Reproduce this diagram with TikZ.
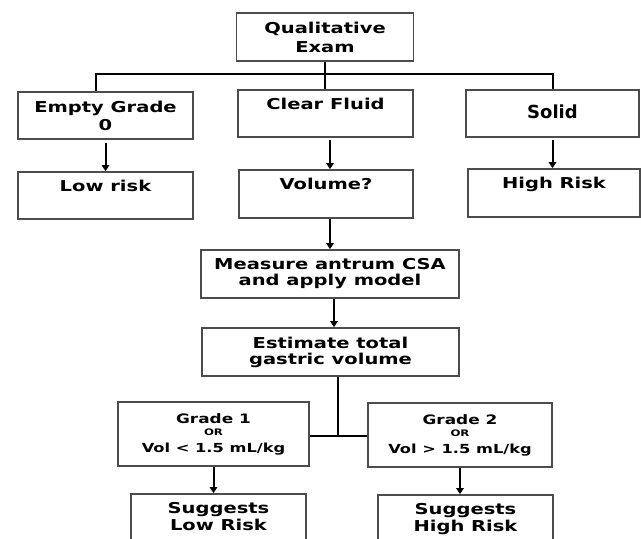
\documentclass[tikz,border=0pt]{standalone}
\usepackage{fontspec}
\setmainfont{DejaVu Sans}[FakeStretch=1.3]
\newfontfamily\solidfont{DejaVu Sans}
\usetikzlibrary{arrows.meta}

\begin{document}
\begin{tikzpicture}[x=1pt, y=-1pt,
		box/.style={draw=black!70, line width=1.7pt, align=center, inner sep=2pt,
			font=\bfseries\fontsize{15}{16}\selectfont},
		leading/.style={font=\bfseries\fontsize{15}{#1}\selectfont},
		topbox/.style={box, text height=11pt, text depth=20pt},
		flow/.style={-{Triangle[length=6pt,width=7.5pt]}, line width=2pt},
		link/.style={line width=2pt}]
			%%%%% START %%%%%
			
			\useasboundingbox (0, 0) rectangle (641, 539);
			\clip (0, 0) rectangle (641, 539);
			\fill[white] (0, 0) rectangle (641, 539);
			
			\node[box, leading=19, minimum width=177pt, minimum height=48pt] (qual) at (325, 37) {Qualitative\\Exam};
			
			\node[box, leading=18, minimum width=175pt, minimum height=47pt] (empty) at (105.5, 115.5) {Empty Grade\\0};
			\node[topbox, minimum width=175pt, minimum height=47pt] (clear) at (325.5, 113.5) {Clear Fluid};
			\node[box, font=\solidfont\bfseries\fontsize{18}{18}\selectfont, text depth=4pt, minimum width=173pt, minimum height=47pt] (solid) at (552.5, 113.5) {Solid};
			
			\node[topbox, minimum width=175pt, minimum height=47pt] (low) at (105.5, 195.5) {Low risk};
			\node[topbox, minimum width=174pt, minimum height=48pt] (vol) at (326, 194) {Volume?};
			\node[topbox, minimum width=172pt, minimum height=48pt] (high) at (554, 193) {High Risk};
			
			\node[box, minimum width=258pt, minimum height=48pt] (measure) at (330, 274) {Measure antrum CSA\\and apply model};
			\node[box, minimum width=257pt, minimum height=48pt] (estimate) at (330.5, 352) {Estimate total\\gastric volume};
			
			\node[box, font=\bfseries\fontsize{13}{12}\selectfont, minimum width=191pt, minimum height=64pt] (grade1) at (213.5, 434)
				{Grade 1\\{\fontsize{9}{9}\selectfont OR}\\[5pt]{\fontsize{12.5}{12}\selectfont Vol < 1.5 mL/kg}};
			\node[box, font=\bfseries\fontsize{13}{12}\selectfont, minimum width=184pt, minimum height=64pt] (grade2) at (460, 435)
				{Grade 2\\{\fontsize{9}{9}\selectfont OR}\\[5pt]{\fontsize{12.5}{12}\selectfont Vol > 1.5 mL/kg}};
			
			\node[box, leading=17, text depth=8pt, minimum width=175pt, minimum height=52pt] (lowsug) at (218.5, 520) {Suggests\\Low Risk};
			\node[box, leading=17, text depth=8pt, minimum width=175pt, minimum height=52pt] (highsug) at (465.5, 521) {Suggests\\High Risk};
			
			% branches of the first exam
			\coordinate (busL) at (96, 74);
			\coordinate (busR) at (553, 74);
			\draw[link] (qual.south) -- (qual.south |- clear.north);
			\draw[link] (busL |- empty.north) -- (busL) -- (busR) -- (busR |- solid.north);
			
			\draw[flow] ([yshift=-3pt]empty.south) -- (empty.south |- low.north);
			\draw[flow] ([xshift=4.5pt, yshift=-2pt]clear.south) -- ([xshift=4pt]vol.north);
			\draw[flow] ([yshift=-2pt]solid.south) -- (solid.south |- high.north);
			
			\draw[flow] ([xshift=4pt]vol.south) -- (measure.north);
			\draw[flow] ([xshift=4pt]measure.south) -- ([xshift=4pt]measure.south |- estimate.north);
			
			% split on the volume
			\coordinate (split) at (338, 436);
			\draw[link] (split |- estimate.south) -- (split);
			\draw[link] (grade1.east |- split) -- (grade2.west |- split);
			
			\draw[flow] (grade1.south) -- (grade1.south |- lowsug.north);
			\draw[flow] (grade2.south) -- (grade2.south |- highsug.north);
			
			%%%%% END %%%%%
\end{tikzpicture}
\end{document}
